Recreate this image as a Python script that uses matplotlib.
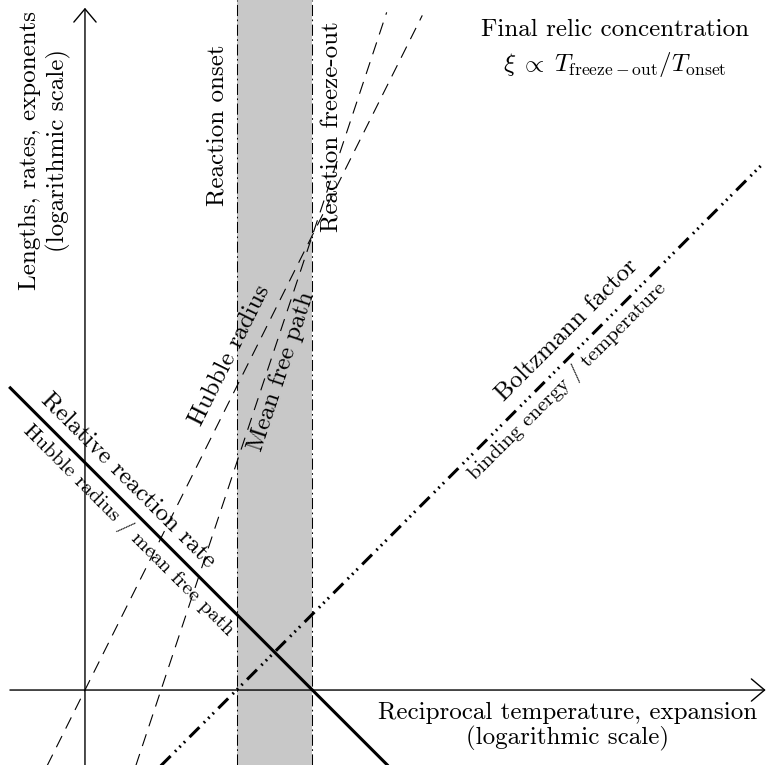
import matplotlib
matplotlib.use('Agg')
import matplotlib.pyplot as plt

plt.rcParams['font.family'] = ['cmr10', 'DejaVu Serif']
plt.rcParams['mathtext.fontset'] = 'cm'
plt.rcParams['axes.formatter.use_mathtext'] = True
plt.rcParams['lines.scale_dashes'] = False

# schematic lines, in log units (origin where the two axes cross)
hubble_x = [-0.5, 4.45]
hubble_y = [-1.0, 8.9]
mfp_x = [0.67, 3.98]
mfp_y = [-1.0, 8.94]
rate_x = [-1.0, 4.0]
rate_y = [4.0, -1.0]
boltz_x = [1.0, 8.93]
boltz_y = [-1.0, 6.93]
onset = 2.0
freeze_out = 3.0

fig = plt.figure(figsize=(7.68, 7.65), dpi=100)
ax = fig.add_axes([0, 0, 1, 1])
ax.set_xlim(-1.121, 9.011)
ax.set_ylim(-0.989, 9.103)
ax.axis('off')

# shaded reaction window
ax.axvspan(onset, freeze_out, color='#c8c8c8', lw=0, zorder=0)
for xv in (onset, freeze_out):
    ax.axvline(xv, color='black', lw=0.75, ls=(0, (8, 2.5, 1.2, 2.5)), zorder=2)

# axes with arrows
arrow = dict(arrowstyle='->,head_length=0.95,head_width=0.8', lw=1.0, color='black',
             shrinkA=0, shrinkB=0)
ax.annotate('', xy=(8.98, 0), xytext=(-0.99, 0), arrowprops=arrow, zorder=3)
ax.annotate('', xy=(0, 9.0), xytext=(0, -0.99), arrowprops=arrow, zorder=3)

ax.plot(hubble_x, hubble_y, color='black', lw=0.8, ls=(0, (9, 6)), zorder=2)
ax.plot(mfp_x, mfp_y, color='black', lw=0.8, ls=(0, (9, 6)), zorder=2)
ax.plot(rate_x, rate_y, color='black', lw=2.2, zorder=3, solid_capstyle='butt')
ax.plot(boltz_x, boltz_y, color='black', lw=2.2, zorder=3,
        ls=(0, (10, 4.5, 1.3, 3.2, 1.3, 3.2, 1.3, 4.5)), dash_capstyle='butt')

# labels
fs = 18
fs_small = 15
kw = dict(ha='center', va='center', rotation_mode='anchor', color='black')
ax.text(6.99, 8.71, 'Final relic concentration', fontsize=fs, **kw)
ax.text(6.99, 8.25, r'$\xi\;\propto\;T_{\rm freeze-out}/T_{\rm onset}$', fontsize=fs, **kw)
ax.text(1.75, 7.45, 'Reaction onset', fontsize=fs, rotation=90, **kw)
ax.text(3.26, 7.43, 'Reaction freeze-out', fontsize=fs, rotation=90, **kw)
ax.text(-0.53, 7.12, 'Lengths, rates, exponents\n(logarithmic scale)', fontsize=fs,
        rotation=90, linespacing=1.3, **kw)
ax.text(6.37, -0.48, 'Reciprocal temperature, expansion\n(logarithmic scale)', fontsize=fs,
        linespacing=1.12, **kw)
ax.text(1.91, 4.42, 'Hubble radius', fontsize=fs, rotation=63.43, **kw)
ax.text(2.6, 4.2, 'Mean free path', fontsize=fs, rotation=71.57, **kw)
ax.text(0.57, 2.77, 'Relative reaction rate', fontsize=fs, rotation=-45, **kw)
ax.text(0.57, 2.11, 'Hubble radius / mean free path', fontsize=fs_small, rotation=-45, **kw)
ax.text(6.36, 4.75, 'Boltzmann factor', fontsize=fs, rotation=45, **kw)
ax.text(6.37, 4.08, 'binding energy / temperature', fontsize=fs_small, rotation=45, **kw)

fig.savefig('out.png', dpi=100)
